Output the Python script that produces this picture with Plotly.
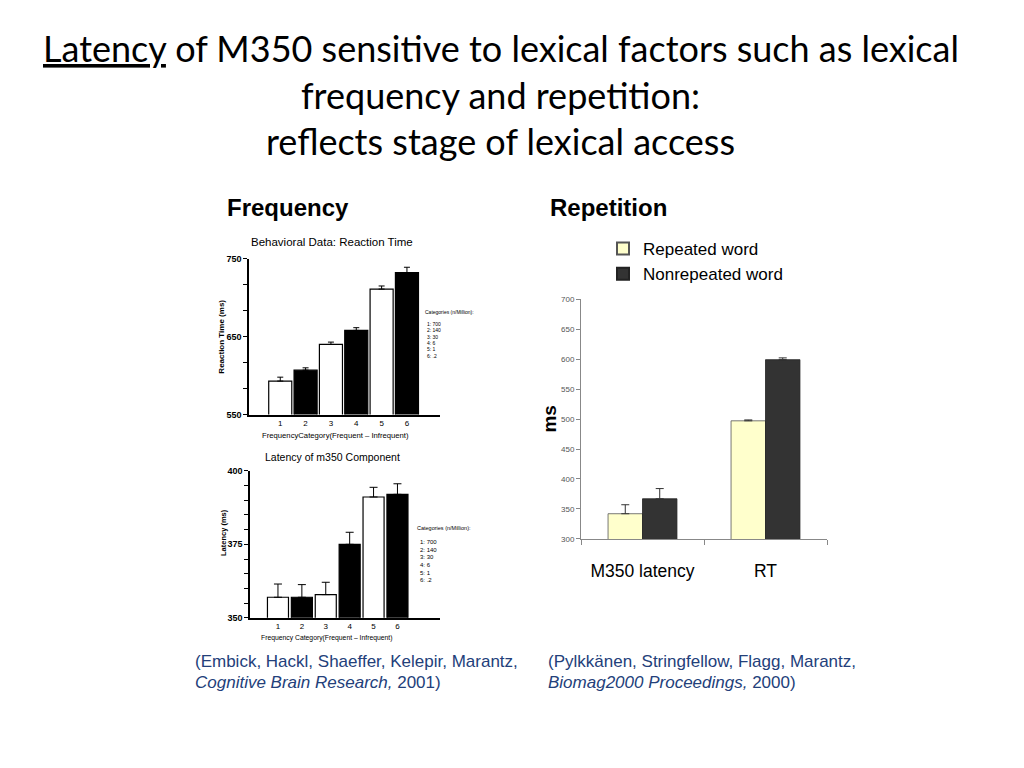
import plotly.graph_objects as go

# The page body has an 8px default margin; the figure is placed inside it.
OX, OY = 8, 8
W, H = 1024 - 2 * OX, 768 - 2 * OY


def px(x):
    return (x - OX) / W


def py(y):
    return 1 - (y - OY) / H


# ---------------- data ----------------
freq_categories = [1, 2, 3, 4, 5, 6]
freq_tick_labels = ["1", "2", "3", "4", "5", "6"]

rt_values = [593, 607, 640, 658, 711, 732]
rt_err = [5, 3, 3, 3.5, 4, 7]
rt_tickvals = [550, 583.33, 616.67, 650, 683.33, 716.67, 750]
rt_ticktext = ["550", "", "", "650", "", "", "750"]

m350_values = [357.0, 357.0, 357.9, 375.0, 391.1, 392.0]
m350_err = [4.5, 4.3, 4.2, 4.1, 3.3, 3.6]
m350_tickvals = [350, 355, 360, 365, 370, 375, 380, 385, 390, 395, 400]
m350_ticktext = ["350", "", "", "", "", "375", "", "", "", "", "400"]

category_header = "Categories (n/Million):"
category_items = ["1: 700", "2: 140", "3: 30", "4: 6", "5: 1", "6: .2"]

rep_categories = ["M350 latency", "RT"]
repeated_values = [342, 497]
repeated_err = [15, 1.5]
nonrepeated_values = [367, 599]
nonrepeated_err = [17, 3]
rep_tickvals = [300, 350, 400, 450, 500, 550, 600, 650, 700]

# ---------------- styles ----------------
freq_fill = ["white", "black", "white", "black", "white", "black"]
FONT = "Liberation Sans, Arial, sans-serif"
TITLE_FONT = "Lato, Open Sans, sans-serif"
CITE = "#23407a"

fig = go.Figure()

fig.add_trace(go.Bar(
    x=freq_categories, y=rt_values, width=0.91,
    marker=dict(color=freq_fill, line=dict(color="black", width=1.2)),
    error_y=dict(type="data", symmetric=False, array=rt_err,
                 arrayminus=[0] * len(rt_err), color="black", thickness=1, width=3),
    xaxis="x", yaxis="y", showlegend=False))

fig.add_trace(go.Bar(
    x=freq_categories, y=m350_values, width=0.88,
    marker=dict(color=freq_fill, line=dict(color="black", width=1.2)),
    error_y=dict(type="data", symmetric=False, array=m350_err,
                 arrayminus=[0] * len(m350_err), color="black", thickness=1, width=4),
    xaxis="x2", yaxis="y2", showlegend=False))

fig.add_trace(go.Bar(
    x=rep_categories, y=repeated_values, name="Repeated word",
    marker=dict(color="#ffffcc", line=dict(color="#555555", width=0.8)),
    error_y=dict(type="data", symmetric=False, array=repeated_err,
                 arrayminus=[0, 0], color="#333333", thickness=1, width=4),
    xaxis="x3", yaxis="y3"))

fig.add_trace(go.Bar(
    x=rep_categories, y=nonrepeated_values, name="Nonrepeated word",
    marker=dict(color="#333333", line=dict(color="#222222", width=0.8)),
    error_y=dict(type="data", symmetric=False, array=nonrepeated_err,
                 arrayminus=[0, 0], color="#333333", thickness=1, width=4),
    xaxis="x3", yaxis="y3"))

left_x = dict(showline=True, linecolor="black", linewidth=1.5, ticks="",
              showgrid=False, zeroline=False, tickmode="array",
              tickfont=dict(family=FONT, size=8, color="black"), ticklabelstandoff=0)
left_y = dict(showline=True, linecolor="black", linewidth=1.5, ticks="outside",
              ticklen=4, tickwidth=1.2, tickcolor="black", showgrid=False,
              zeroline=False, tickmode="array",
              tickfont=dict(family=FONT, size=9, color="black", weight="bold"))

fig.update_layout(
    width=W, height=H, margin=dict(l=0, r=0, t=0, b=0),
    paper_bgcolor="white", plot_bgcolor="white",
    barmode="group", bargap=0.44, bargroupgap=0,
    xaxis=dict(left_x, domain=[px(249), px(440)], range=[-0.233, 7.304],
               tickvals=freq_categories, ticktext=freq_tick_labels, anchor="y"),
    yaxis=dict(left_y, domain=[py(415), py(257)], range=[550, 750],
               tickvals=rt_tickvals, ticktext=rt_ticktext, anchor="x"),
    xaxis2=dict(left_x, domain=[px(250), px(440)], range=[-0.17, 7.78],
                tickvals=freq_categories, ticktext=freq_tick_labels, anchor="y2"),
    yaxis2=dict(left_y, domain=[py(621), py(472)], range=[350, 400],
                tickvals=m350_tickvals, ticktext=m350_ticktext, anchor="x2"),
    xaxis3=dict(domain=[px(581), px(827)], range=[-0.5, 1.5], anchor="y3",
                showline=True, linecolor="#888888", linewidth=1, ticks="outside",
                tickson="boundaries", ticklen=5, tickcolor="#888888",
                showgrid=False, zeroline=False, ticklabelstandoff=16,
                tickfont=dict(family=FONT, size=17.5, color="black")),
    yaxis3=dict(domain=[py(541), py(298)], range=[300, 700], anchor="x3",
                tickvals=rep_tickvals, showline=True, linecolor="#888888",
                linewidth=1, ticks="outside", ticklen=4, tickcolor="#888888",
                showgrid=False, zeroline=False,
                tickfont=dict(family=FONT, size=8, color="#555555")),
    legend=dict(x=px(603), y=py(229), xanchor="left", yanchor="top",
                font=dict(family=FONT, size=17, color="black"),
                bgcolor="rgba(0,0,0,0)", tracegroupgap=0, itemsizing="constant"),
    showlegend=True,
)

ann = []


def text(x, y, s, size, family=FONT, color="black", xanchor="center", angle=0, **kw):
    ann.append(dict(x=px(x), y=py(y), xref="paper", yref="paper", text=s,
                    showarrow=False, xanchor=xanchor, yanchor="middle",
                    textangle=angle,
                    font=dict(family=family, size=size, color=color, **kw)))


# slide title
text(501, 43, '<span style="text-decoration:underline">Latency</span> of M350 sensitive to lexical factors such as lexical', 36, TITLE_FONT)
text(500, 91, "frequency and repetition:", 36, TITLE_FONT)
text(500, 138, "reflects stage of lexical access", 36, TITLE_FONT)

# section headings
text(288, 205, "Frequency", 24, weight="bold")
text(608, 205, "Repetition", 24, weight="bold")

# top-left chart
text(332, 240, "Behavioral Data: Reaction Time", 11.5)
text(222, 336, "Reaction Time (ms)", 8, angle=-90, weight="bold")
text(335, 436, "FrequencyCategory(Frequent \u2013 Infrequent)", 7.7)
text(423, 311, category_header, 5, xanchor="left")
for i, s in enumerate(category_items):
    text(425, 323 + 6.5 * i, s, 5, xanchor="left")

# bottom-left chart
text(332, 458, "Latency of m350 Component", 10.5)
text(224, 535, "Latency (ms)", 7.5, angle=-90, weight="bold")
text(326, 641, "Frequency Category(Frequent \u2013 Infrequent)", 6.8)
text(415, 530, category_header, 5.5, xanchor="left")
for i, s in enumerate(category_items):
    text(418, 544 + 7.8 * i, s, 6, xanchor="left")

# right chart
text(550, 420, "ms", 19, angle=-90, weight="bold")

# citations
text(193, 665, "(Embick, Hackl, Shaeffer, Kelepir, Marantz,", 17, color=CITE, xanchor="left")
text(193, 687, "<i>Cognitive Brain Research,</i> 2001)", 17, color=CITE, xanchor="left")
text(546, 665, "(Pylkk\u00e4nen, Stringfellow, Flagg, Marantz,", 17, color=CITE, xanchor="left")
text(546, 687, "<i>Biomag2000 Proceedings,</i> 2000)", 17, color=CITE, xanchor="left")

fig.update_layout(annotations=ann)

fig.write_html("out.html")
